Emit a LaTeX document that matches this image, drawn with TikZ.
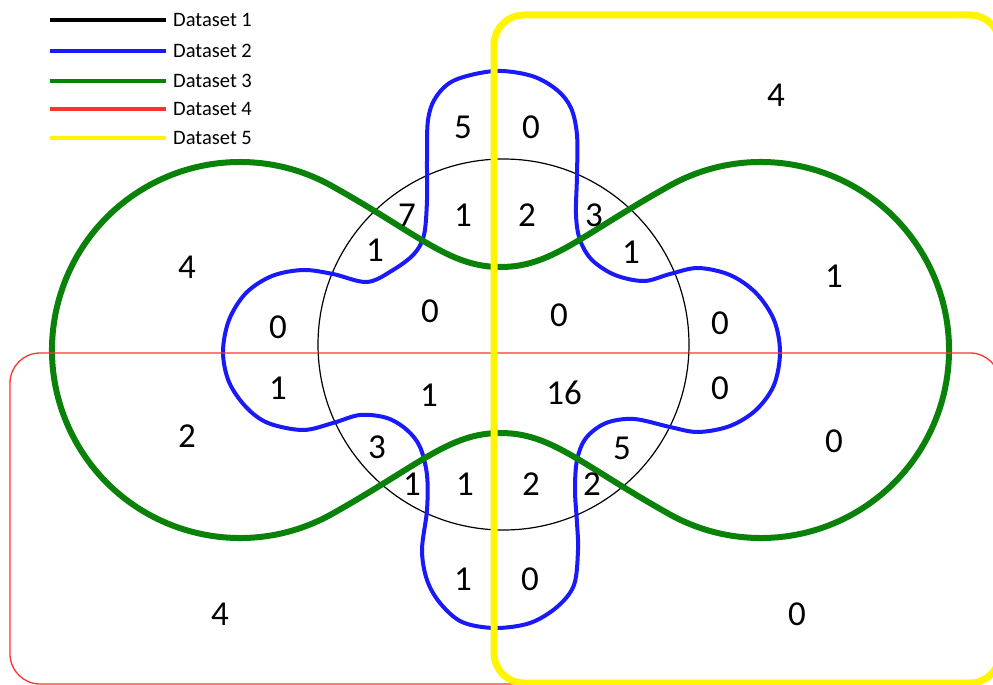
\documentclass[tikz,border=0pt]{standalone}
\usepackage{fontspec}
\setmainfont{Carlito}
\definecolor{vblue}{RGB}{25,25,250}
\definecolor{vgreen}{RGB}{10,130,10}
\definecolor{vyellow}{RGB}{255,245,0}
\definecolor{vred}{RGB}{255,50,50}
\begin{document}
\begin{tikzpicture}[x=1pt,y=-1pt,
  num/.style={inner sep=0pt, font=\fontsize{35}{40}\selectfont},
  legtext/.style={anchor=west, inner sep=0pt, font=\fontsize{20.5}{24}\selectfont},
  legline/.style={line width=4pt},
  setone/.style={black, line width=1.2pt},
  settwo/.style={vblue, line width=4pt},
  setthree/.style={vgreen, line width=6pt},
  setfour/.style={vred, line width=1.3pt, rounded corners=30pt},
  setfive/.style={vyellow, line width=7pt, rounded corners=30pt}]
\useasboundingbox (0,0) rectangle (993,685);

% legend
\coordinate (l1a) at (50,20);  \coordinate (l1b) at (166,20);
\coordinate (l2a) at (50,51);  \coordinate (l2b) at (166,51);
\coordinate (l3a) at (50,81);  \coordinate (l3b) at (166,81);
\coordinate (l4a) at (50,109); \coordinate (l4b) at (166,109);
\coordinate (l5a) at (50,138); \coordinate (l5b) at (166,138);
\draw[legline, black] (l1a) -- (l1b);
\draw[legline, vblue] (l2a) -- (l2b);
\draw[legline, vgreen] (l3a) -- (l3b);
\draw[legline, vred] (l4a) -- (l4b);
\draw[legline, vyellow] (l5a) -- (l5b);
\node[legtext] (t1) at (173,20) {Dataset 1};
\node[legtext] (t2) at (173,51) {Dataset 2};
\node[legtext] (t3) at (173,81) {Dataset 3};
\node[legtext] (t4) at (173,109) {Dataset 4};
\node[legtext] (t5) at (173,138) {Dataset 5};

% dataset 1: circle
\draw[setone] (503.5,344.5) circle[radius=185.5pt];

% dataset 2: blue
\draw[settwo] plot[smooth cycle, tension=0.55] coordinates {
 (427,200) (427,160) (428,120) (436,97) (455,80) (495,71) (532,76) (557,90)
 (571,108) (577,135) (577,175) (576,215) (580,240) (592,260) (615,275) (644,281)
 (670,274) (698,268) (730,275) (756,293) (774,320) (780,352) (774,385) (756,410)
 (730,426) (698,432) (670,427) (634,419) (606,423) (586,438) (577,460) (575,490)
 (577,523) (578,550) (574,585) (557,607) (530,623) (495,628) (462,622) (440,603)
 (427,580) (422,550) (427,510) (427,475) (420,447) (407,430) (387,418) (360,415)
 (333,423) (303,430) (268,423) (246,407) (229,382) (223,352) (229,320) (246,293)
 (272,276) (303,270) (333,274) (367,282) (393,270) (414,254) (424,235)};

% dataset 3: green
\draw[setthree] (500.5,267) .. controls (551,267) and (580,236) .. (667,187.2)
  arc[start angle=120, end angle=-120, radius=188pt]
  .. controls (580,463.8) and (551,433) .. (500.5,433)
  .. controls (450,433) and (421,463.8) .. (334,512.8)
  arc[start angle=-60, end angle=-300, radius=188pt]
  .. controls (421,236) and (450,267) .. cycle;

% dataset 4: red
\draw[setfour] (10,353) rectangle (1000,684);

% dataset 5: yellow
\draw[setfive] (494,15) rectangle (1000,683);

% numbers
\node[num] (a1) at (776,95) {4};
\node[num] (a2) at (463,127) {5};
\node[num] (a3) at (531,127) {0};
\node[num] (a4) at (407,215) {7};
\node[num] (a5) at (463,215) {1};
\node[num] (a6) at (527,215) {2};
\node[num] (a7) at (594,215) {3};
\node[num] (a8) at (375,250) {1};
\node[num] (a9) at (631,252) {1};
\node[num] (a10) at (187,267) {4};
\node[num] (a11) at (834,276) {1};
\node[num] (a12) at (278,327) {0};
\node[num] (a13) at (430,311) {0};
\node[num] (a14) at (559,315) {0};
\node[num] (a15) at (720,323) {0};
\node[num] (a16) at (278,388) {1};
\node[num] (a17) at (429,395) {1};
\node[num] (a18) at (564,393) {16};
\node[num] (a19) at (720,388) {0};
\node[num] (a20) at (187,436) {2};
\node[num] (a21) at (834,441) {0};
\node[num] (a22) at (377,447) {3};
\node[num] (a23) at (622,448) {5};
\node[num] (a24) at (412,484) {1};
\node[num] (a25) at (465,484) {1};
\node[num] (a26) at (531,484) {2};
\node[num] (a27) at (592,484) {2};
\node[num] (a28) at (463,579) {1};
\node[num] (a29) at (530,579) {0};
\node[num] (a30) at (220,614) {4};
\node[num] (a31) at (797,614) {0};
\end{tikzpicture}
\end{document}
